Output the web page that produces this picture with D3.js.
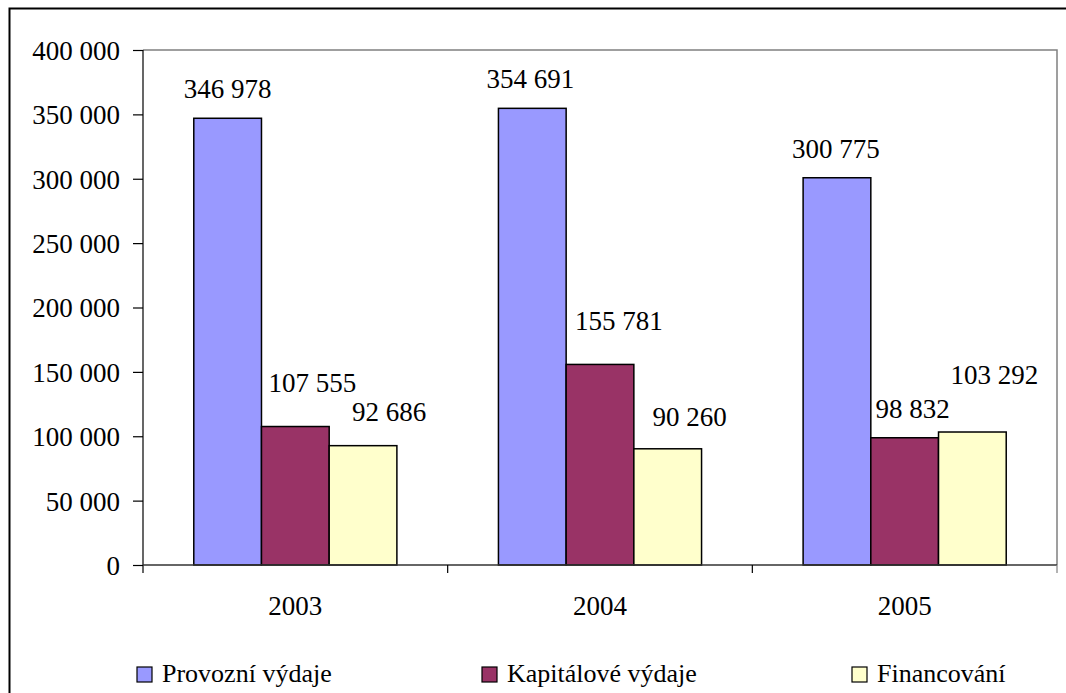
<!DOCTYPE html>
<html>
<head>
<meta charset="utf-8">
<script src="https://cdn.jsdelivr.net/npm/d3@7"></script>
<style>
  body { margin: 0; background: #fff; }
</style>
</head>
<body>
<div id="chart"></div>
<script>
// Chart data
const years = ['2003', '2004', '2005'];
const seriesNames = ['Provozní výdaje', 'Kapitálové výdaje', 'Financování'];
const provozni = [346978, 354691, 300775];
const kapitalove = [107555, 155781, 98832];
const financovani = [92686, 90260, 103292];
const yTicks = [0, 50000, 100000, 150000, 200000, 250000, 300000, 350000, 400000];

const colors = ['#9999ff', '#993366', '#ffffcc'];
// manual nudges of the data labels (dx, dy), per year and series
const labelNudge = [
    [[0, 0], [17, -15], [26, -5]],
    [[-2, 0], [19, -14], [22, -3]],
    [[-1, 0], [8, 0], [22, -28]]
];

const FONT = '"Liberation Serif"';
const width = 1066, height = 693;
const plot = {left: 143, right: 1057, top: 50, bottom: 565};

const fmt = d3.formatLocale({decimal: ',', thousands: ' ', grouping: [3], currency: ['', '']}).format(',');

const svg = d3.select('#chart')
    .append('svg')
    .attr('width', width)
    .attr('height', height);

// outer frame (right and bottom edges fall outside the picture)
svg.append('rect')
    .attr('x', 9.5)
    .attr('y', 8.5)
    .attr('width', 1100)
    .attr('height', 750)
    .attr('fill', 'none')
    .attr('stroke', '#000')
    .attr('stroke-width', 2);

const x0 = d3.scaleBand()
    .domain(years)
    .range([plot.left, plot.right])
    .padding(0);

const x1 = d3.scaleBand()
    .domain(seriesNames)
    .range([0, x0.bandwidth()])
    .paddingInner(0)
    .paddingOuter(0.75);

const y = d3.scaleLinear()
    .domain([0, 400000])
    .range([plot.bottom, plot.top]);

// plot area border
svg.append('path')
    .attr('d', `M${plot.left},${plot.top}H${plot.right}V${plot.bottom}`)
    .attr('fill', 'none')
    .attr('stroke', '#808080')
    .attr('stroke-width', 1.5);

const table = years.map((yr, i) => ({
    year: yr,
    values: [provozni[i], kapitalove[i], financovani[i]]
}));

const groups = svg.selectAll('.grp')
    .data(table)
    .enter()
    .append('g')
    .attr('class', 'grp')
    .attr('transform', d => `translate(${x0(d.year)},0)`);

groups.selectAll('rect')
    .data(d => d.values.map((v, j) => ({v, j})))
    .enter()
    .append('rect')
    .attr('x', d => x1(seriesNames[d.j]))
    .attr('y', d => y(d.v))
    .attr('width', x1.bandwidth())
    .attr('height', d => y(0) - y(d.v))
    .attr('fill', d => colors[d.j])
    .attr('stroke', '#000')
    .attr('stroke-width', 1.5);

groups.each(function (d, i) {
    d3.select(this).selectAll('text.lbl')
        .data(d.values.map((v, j) => ({v, j})))
        .enter()
        .append('text')
        .attr('class', 'lbl')
        .attr('x', e => x1(seriesNames[e.j]) + x1.bandwidth() / 2 + labelNudge[i][e.j][0])
        .attr('y', e => y(e.v) - 20 + labelNudge[i][e.j][1])
        .attr('text-anchor', 'middle')
        .style('font-family', FONT)
        .style('font-size', '27px')
        .style('fill', '#000')
        .text(e => fmt(e.v));
});

// y axis
const yAxis = svg.append('g')
    .attr('transform', `translate(${plot.left},0)`)
    .call(d3.axisLeft(y).tickValues(yTicks).tickSize(10).tickPadding(13).tickFormat(fmt));
yAxis.attr('font-family', null).attr('font-size', null);
yAxis.select('.domain').remove();
yAxis.selectAll('line').attr('stroke', '#000').attr('stroke-width', 1.2);
yAxis.selectAll('text')
    .style('font-family', FONT)
    .style('font-size', '27px')
    .style('fill', '#000')
    .attr('dy', '0.35em');
svg.append('line')
    .attr('x1', plot.left).attr('x2', plot.left)
    .attr('y1', plot.top).attr('y2', plot.bottom + 8)
    .attr('stroke', '#000')
    .attr('stroke-width', 1.2);

// x axis
svg.append('line')
    .attr('x1', plot.left).attr('x2', plot.right)
    .attr('y1', plot.bottom).attr('y2', plot.bottom)
    .attr('stroke', '#333')
    .attr('stroke-width', 1.5);
svg.selectAll('.xtick')
    .data(years.slice(1).concat(['end']))
    .enter()
    .append('line')
    .attr('class', 'xtick')
    .attr('x1', (d, i) => i < years.length - 1 ? x0(d) : plot.right)
    .attr('x2', (d, i) => i < years.length - 1 ? x0(d) : plot.right)
    .attr('y1', plot.bottom)
    .attr('y2', plot.bottom + 8)
    .attr('stroke', (d, i) => i < years.length - 1 ? '#000' : '#808080')
    .attr('stroke-width', 1.2);
svg.selectAll('.xlbl')
    .data(years)
    .enter()
    .append('text')
    .attr('class', 'xlbl')
    .attr('x', d => x0(d) + x0.bandwidth() / 2)
    .attr('y', 615)
    .attr('text-anchor', 'middle')
    .style('font-family', FONT)
    .style('font-size', '27px')
    .text(d => d);

// legend
const legendX = [137, 482, 852];
const legend = svg.selectAll('.leg')
    .data(seriesNames)
    .enter()
    .append('g')
    .attr('class', 'leg')
    .attr('transform', (d, i) => `translate(${legendX[i]},667)`);
legend.append('rect')
    .attr('width', 15)
    .attr('height', 15)
    .attr('fill', (d, i) => colors[i])
    .attr('stroke', '#000')
    .attr('stroke-width', 1.2);
legend.append('text')
    .attr('x', 25)
    .attr('y', 15)
    .style('font-family', FONT)
    .style('font-size', '26px')
    .text(d => d);
</script>
</body>
</html>
